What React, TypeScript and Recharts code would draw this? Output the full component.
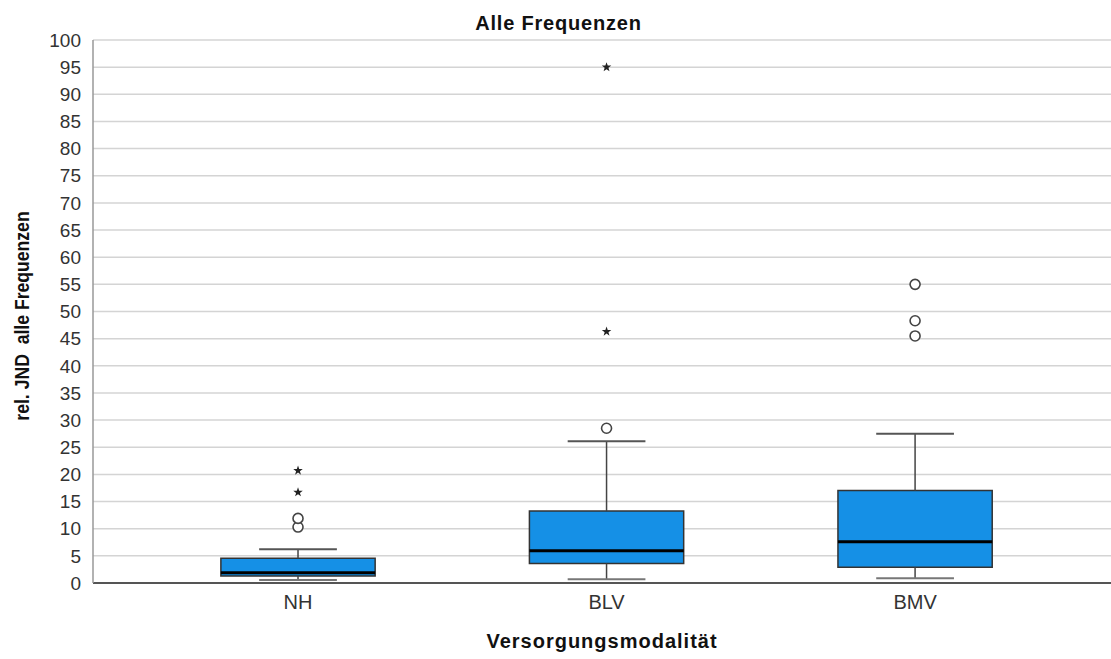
import {
  ComposedChart,
  CartesianGrid,
  XAxis,
  YAxis,
  ReferenceArea,
  ReferenceLine,
  Scatter,
} from "recharts"

// Box plot summaries per group
const categories = ["NH", "BLV", "BMV"]
const whiskerLow = [0.55, 0.68, 0.86]
const q1 = [1.3, 3.6, 2.9]
const median = [1.9, 5.95, 7.6]
const q3 = [4.55, 13.25, 17.05]
const whiskerHigh = [6.2, 26.1, 27.5]

// Outliers (circles) and extreme values (stars), by group index
const outliers = [
  { x: 0, y: 10.3 },
  { x: 0, y: 11.9 },
  { x: 1, y: 28.5 },
  { x: 2, y: 45.5 },
  { x: 2, y: 48.3 },
  { x: 2, y: 55.0 },
]
const extremes = [
  { x: 0, y: 16.7 },
  { x: 0, y: 20.7 },
  { x: 1, y: 46.3 },
  { x: 1, y: 95.0 },
]

const yTicks = [0, 5, 10, 15, 20, 25, 30, 35, 40, 45, 50, 55, 60, 65, 70, 75, 80, 85, 90, 95, 100]
const xTicks = [0, 1, 2]

const BOX_HALF = 0.25
const CAP_HALF = 0.126
const BOX_FILL = "#1590e6"
const FONT = "'Liberation Sans', Arial, sans-serif"

const CircleMark = (props: any) => {
  const { cx, cy } = props
  return <circle cx={cx} cy={cy} r={5} fill="#fff" stroke="#444" strokeWidth={1.6} />
}

const StarMark = (props: any) => {
  const { cx, cy } = props
  const pts: string[] = []
  for (let i = 0; i < 10; i++) {
    const r = i % 2 === 0 ? 5 : 2
    const a = -Math.PI / 2 + (i * Math.PI) / 5
    pts.push(`${cx + r * Math.cos(a)},${cy + r * Math.sin(a)}`)
  }
  return <polygon points={pts.join(" ")} fill="#222" />
}

export default function App() {
  return (
    <div style={{ position: "absolute", left: 0, top: 0, width: 1111, height: 659, background: "#fff" }}>
      <div
        style={{
          position: "absolute",
          left: 0,
          width: 1111,
          top: 12,
          textAlign: "center",
          paddingLeft: 6,
          boxSizing: "border-box",
          fontFamily: FONT,
          fontWeight: "bold",
          fontSize: 20,
          letterSpacing: 0.8,
          color: "#111",
        }}
      >
        Alle Frequenzen
      </div>
      <div
        style={{
          position: "absolute",
          left: 93,
          width: 1018,
          top: 630,
          textAlign: "center",
          fontFamily: FONT,
          fontWeight: "bold",
          fontSize: 20,
          letterSpacing: 1,
          color: "#111",
        }}
      >
        Versorgungsmodalität
      </div>
      <div
        style={{
          position: "absolute",
          left: 22,
          top: 316,
          transform: "translate(-50%, -50%) rotate(-90deg) scaleX(0.88)",
          whiteSpace: "pre",
          fontFamily: FONT,
          fontWeight: "bold",
          fontSize: 20,
          color: "#111",
        }}
      >
        {"rel. JND  alle Frequenzen"}
      </div>
      <ComposedChart
        width={1111}
        height={659}
        margin={{ top: 40, right: 0, bottom: 0, left: 0 }}
        style={{ position: "absolute", left: 0, top: 0 }}
      >
        <CartesianGrid horizontal vertical={false} stroke="#d4d4d4" strokeWidth={1.5} />
        <XAxis
          type="number"
          dataKey="x"
          domain={[-0.6645, 2.635]}
          ticks={xTicks}
          tickFormatter={(v: number) => categories[v] ?? ""}
          tickLine={false}
          axisLine={{ stroke: "#555", strokeWidth: 2 }}
          tick={{ fill: "#333", fontSize: 20, fontFamily: FONT }}
          height={76}
          tickMargin={6}
          allowDataOverflow
        />
        <YAxis
          type="number"
          dataKey="y"
          domain={[0, 100]}
          ticks={yTicks}
          interval={0}
          tickLine={false}
          axisLine={{ stroke: "#999", strokeWidth: 1.5 }}
          tick={{ fill: "#333", fontSize: 19, fontFamily: FONT }}
          width={93}
          tickMargin={6}
          allowDataOverflow
        />

        {categories.map((c, i) => (
          <ReferenceLine
            key={`wl-${c}`}
            segment={[
              { x: i, y: whiskerLow[i] },
              { x: i, y: q1[i] },
            ]}
            stroke="#444"
            strokeWidth={1.5}
          />
        ))}
        {categories.map((c, i) => (
          <ReferenceLine
            key={`wh-${c}`}
            segment={[
              { x: i, y: q3[i] },
              { x: i, y: whiskerHigh[i] },
            ]}
            stroke="#444"
            strokeWidth={1.5}
          />
        ))}
        {categories.map((c, i) => (
          <ReferenceLine
            key={`cl-${c}`}
            segment={[
              { x: i - CAP_HALF, y: whiskerLow[i] },
              { x: i + CAP_HALF, y: whiskerLow[i] },
            ]}
            stroke="#777"
            strokeWidth={2}
          />
        ))}
        {categories.map((c, i) => (
          <ReferenceLine
            key={`ch-${c}`}
            segment={[
              { x: i - CAP_HALF, y: whiskerHigh[i] },
              { x: i + CAP_HALF, y: whiskerHigh[i] },
            ]}
            stroke="#555"
            strokeWidth={2}
          />
        ))}
        {categories.map((c, i) => (
          <ReferenceArea
            key={`box-${c}`}
            x1={i - BOX_HALF}
            x2={i + BOX_HALF}
            y1={q1[i]}
            y2={q3[i]}
            fill={BOX_FILL}
            fillOpacity={1}
            stroke="#333"
            strokeWidth={1.5}
          />
        ))}
        {categories.map((c, i) => (
          <ReferenceLine
            key={`med-${c}`}
            segment={[
              { x: i - BOX_HALF, y: median[i] },
              { x: i + BOX_HALF, y: median[i] },
            ]}
            stroke="#000"
            strokeWidth={3}
          />
        ))}

        <Scatter data={outliers} dataKey="y" shape={CircleMark} isAnimationActive={false} />
        <Scatter data={extremes} dataKey="y" shape={StarMark} isAnimationActive={false} />
      </ComposedChart>
    </div>
  )
}
